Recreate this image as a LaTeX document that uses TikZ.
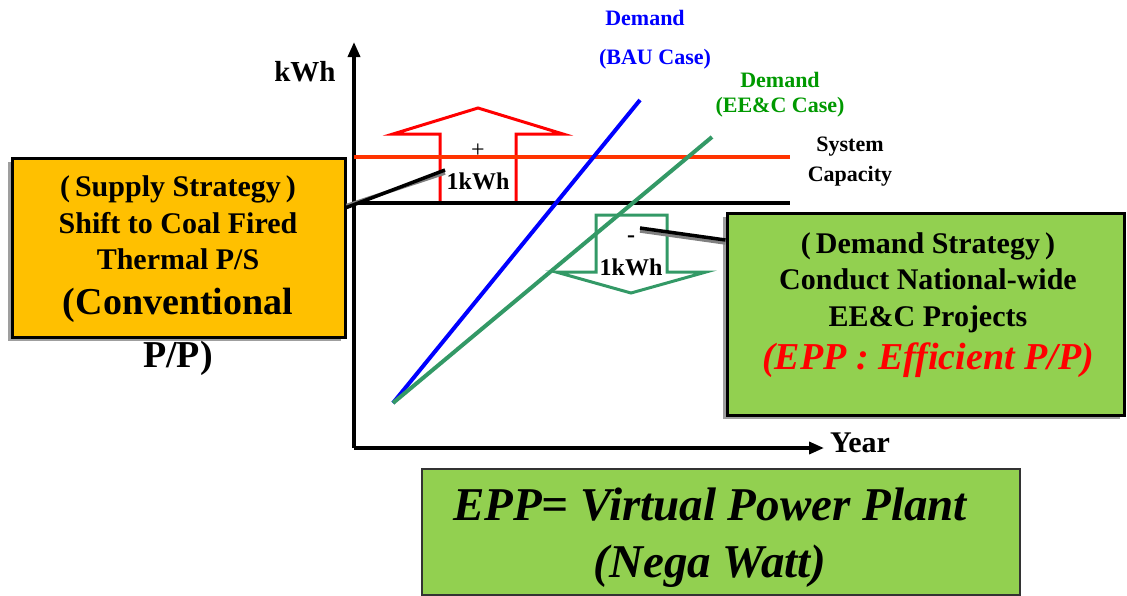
\documentclass[tikz,border=0pt]{standalone}
\usepackage{fontspec}
\setmainfont{Liberation Serif}
\usetikzlibrary{arrows.meta,shadows}

\definecolor{supfill}{HTML}{FFC000}
\definecolor{demfill}{HTML}{92D050}
\definecolor{capred}{HTML}{FF3300}
\definecolor{eecgreen}{HTML}{339966}
\definecolor{lblgreen}{HTML}{009900}

\tikzset{
  fs/.style={font=\bfseries\pgfmathsetmacro\fsb{1.25*#1}\fontsize{#1}{\fsb}\selectfont},
  axis/.style={line width=3.5pt, -{Triangle[length=15pt,width=12pt]}},
  trend/.style={line width=4pt},
  block/.style={line width=3pt, line join=miter},
  leader/.style={line width=3.5pt},
  box/.style={draw=black, line width=3pt,
    drop shadow={shadow xshift=-4pt, shadow yshift=-4pt, fill=gray!75, opacity=1}},
}

\begin{document}
\begin{tikzpicture}[x=1pt,y=-1pt]
  \useasboundingbox (0,0) rectangle (1127,595);

  % axes
  \coordinate (O) at (354,448);
  \coordinate (ytop) at (354,42);
  \coordinate (xend) at (824,448);
  \draw[axis] (O) -- (ytop);
  \draw[axis] (O) -- (xend);
  \node[fs=29] (kwh) at (305,72) {kWh};
  \node[fs=30] (year) at (860,443) {Year};

  % block arrows
  \draw[block, red] (440,203) -- (440,134) -- (393,134) -- (478,108)
    -- (563,134) -- (516,134) -- (516,203) -- cycle;
  \draw[block, eecgreen] (596,215) -- (596,272) -- (556,272) -- (631,293)
    -- (706,272) -- (667,272) -- (667,215) -- cycle;

  % capacity lines
  \coordinate (capL) at (354,157);
  \coordinate (capR) at (790,157);
  \coordinate (baseL) at (354,203);
  \coordinate (baseR) at (790,203);
  \draw[trend, capred] (capL) -- (capR);
  \draw[line width=3.5pt] (baseL) -- (baseR);

  % demand lines
  \coordinate (start) at (393,403);
  \coordinate (bauEnd) at (640,100);
  \coordinate (eecEnd) at (712,137);
  \draw[trend, blue] (start) -- (bauEnd);
  \draw[trend, eecgreen] (start) -- (eecEnd);

  \node[font=\fontsize{24}{24}\selectfont] (plus) at (478,151) {+};
  \node[fs=24] (upkwh) at (478,181) {1kWh};
  \node[fs=24] (minus) at (631,239) {-};
  \node[fs=24] (dnkwh) at (631,267) {1kWh};

  % labels
  \node[fs=22, blue] (bau1) at (645,18) {Demand};
  \node[fs=22, blue] (bau2) at (655,59) {(BAU Case)};
  \node[fs=22, lblgreen] (eec1) at (780,80) {Demand};
  \node[fs=22, lblgreen] (eec2) at (780,107) {(EE\&C Case)};
  \node[fs=22] (sys1) at (850,147) {System};
  \node[fs=22] (sys2) at (850,176) {Capacity};

  % strategy boxes
  \node[box, fill=supfill, minimum width=333pt, minimum height=179pt] (supply) at (178.5,247.5) {};
  \node[align=center, font=\bfseries\fontsize{30}{36.5}\selectfont] (suptext) at (178,276)
    {(\,Supply Strategy\,)\\ Shift to Coal Fired\\ Thermal P/S\\[8pt]
     \fontsize{38}{46}\selectfont (Conventional\\[17pt] \fontsize{38}{46}\selectfont P/P)};
  \node[box, fill=demfill, minimum width=397pt, minimum height=202pt] (demand) at (925.5,314) {};
  \node[align=center, font=\bfseries\fontsize{30}{36.5}\selectfont] (demtext) at (928,305)
    {(\,Demand Strategy\,)\\ Conduct National-wide\\ EE\&C Projects\\[7pt]
     \fontsize{38}{44}\selectfont\itshape\color{red}(EPP : Efficient P/P)};

  \coordinate (supTip) at (445,170);
  \coordinate (demTip) at (640,228);
  \draw[leader, gray] ([yshift=42pt]supply.east) -- ([yshift=-3pt]supTip);
  \draw[leader] ([yshift=40pt]supply.east) -- (supTip);
  \draw[leader, gray] ([yshift=71pt]demand.west) -- ([yshift=-3pt]demTip);
  \draw[leader] ([yshift=74pt]demand.west) -- (demTip);

  % bottom box
  \node[draw=black!80, line width=2.5pt, fill=demfill, minimum width=598pt, minimum height=126pt] (vpp) at (721,532) {};
  \node[align=center, font=\bfseries\itshape\fontsize{47}{57}\selectfont] (vpptext) at (710,538)
    {EPP= Virtual Power Plant\\ (Nega Watt)};
\end{tikzpicture}
\end{document}
